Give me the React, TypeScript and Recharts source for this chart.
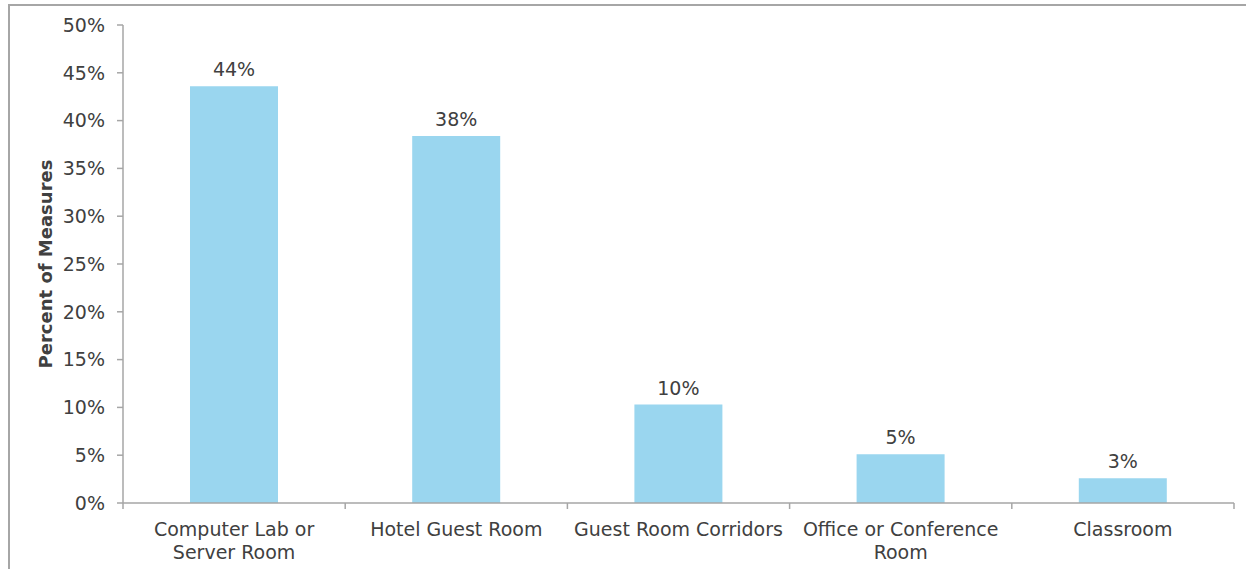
import { BarChart, Bar, XAxis, YAxis, LabelList } from "recharts"

const categories = [
  ["Computer Lab or", "Server Room"],
  ["Hotel Guest Room"],
  ["Guest Room Corridors"],
  ["Office or Conference", "Room"],
  ["Classroom"],
]
const percentOfMeasures = [43.6, 38.4, 10.3, 5.1, 2.6]
const yTicks = [0, 5, 10, 15, 20, 25, 30, 35, 40, 45, 50]

const data = categories.map((lines, i) => ({
  name: lines.join(" "),
  lines,
  value: percentOfMeasures[i],
}))

const W = 1246
const H = 569
const X_AXIS_H = 30
const MARGIN = { top: 25, right: 12, bottom: 66 - X_AXIS_H, left: 8 }
const Y_AXIS_W = 115
const PLOT_W = W - MARGIN.left - MARGIN.right - Y_AXIS_W
const BAND = PLOT_W / categories.length
const TICK_SIZE = 6
const TICK_MARGIN = 13

const AXIS_COLOR = "#a6a6a6"
const TEXT_COLOR = "#404040"
const FONT = "'DejaVu Sans', Verdana, sans-serif"
const FS = 19

const CategoryTick = ({ x, y, payload, index }: any) => {
  const item = data[index] ?? data.find((d) => d.name === payload.value)
  const axisY = y - TICK_SIZE - TICK_MARGIN
  const left = x - BAND / 2
  const right = x + BAND / 2
  return (
    <g>
      <line x1={left} y1={axisY} x2={left} y2={axisY + TICK_SIZE} stroke={AXIS_COLOR} strokeWidth={1.5} />
      {index === categories.length - 1 && (
        <line x1={right} y1={axisY} x2={right} y2={axisY + TICK_SIZE} stroke={AXIS_COLOR} strokeWidth={1.5} />
      )}
      <text x={x} y={y} textAnchor="middle" fill={TEXT_COLOR} fontSize={FS} fontFamily={FONT}>
        {item.lines.map((line: string, i: number) => (
          <tspan key={i} x={x} dy={i === 0 ? "0.73em" : 23}>
            {line}
          </tspan>
        ))}
      </text>
    </g>
  )
}

const AxisTitle = ({ viewBox }: any) => {
  const cx = viewBox.x + 37
  const cy = viewBox.y + viewBox.height / 2
  return (
    <text
      x={cx}
      y={cy}
      transform={`rotate(-90, ${cx}, ${cy})`}
      textAnchor="middle"
      dominantBaseline="central"
      fill={TEXT_COLOR}
      fontSize={18}
      fontWeight="bold"
      fontFamily={FONT}
    >
      Percent of Measures
    </text>
  )
}

export default function App() {
  return (
    <div style={{ position: "fixed", left: 0, top: 0, width: W, height: H, overflow: "hidden", background: "#fff" }}>
      <div
        style={{
          position: "absolute",
          left: 8,
          top: 4,
          width: 1400,
          height: 700,
          borderLeft: `2px solid ${AXIS_COLOR}`,
          borderTop: `2px solid ${AXIS_COLOR}`,
        }}
      />
      <div style={{ position: "absolute", left: 0, top: 0 }}>
        <BarChart width={W} height={H} data={data} margin={MARGIN}>
          <XAxis
            dataKey="name"
            height={X_AXIS_H}
            interval={0}
            tickLine={false}
            tickSize={TICK_SIZE}
            tickMargin={TICK_MARGIN}
            axisLine={{ stroke: AXIS_COLOR, strokeWidth: 1.5 }}
            tick={<CategoryTick />}
          />
          <YAxis
            width={Y_AXIS_W}
            domain={[0, 50]}
            ticks={yTicks}
            interval={0}
            tickFormatter={(v) => `${v}%`}
            tickSize={TICK_SIZE}
            tickMargin={12}
            axisLine={{ stroke: AXIS_COLOR, strokeWidth: 1.5 }}
            tickLine={{ stroke: AXIS_COLOR, strokeWidth: 1.5 }}
            tick={{ fill: TEXT_COLOR, fontSize: FS, fontFamily: FONT }}
            label={<AxisTitle />}
          />
          <Bar dataKey="value" fill="#9ad6ef" barSize={88} isAnimationActive={false}>
            <LabelList
              dataKey="value"
              position="top"
              offset={10}
              formatter={(v: any) => `${Math.round(v)}%`}
              fill={TEXT_COLOR}
              fontSize={FS}
              fontFamily={FONT}
            />
          </Bar>
        </BarChart>
      </div>
    </div>
  )
}
